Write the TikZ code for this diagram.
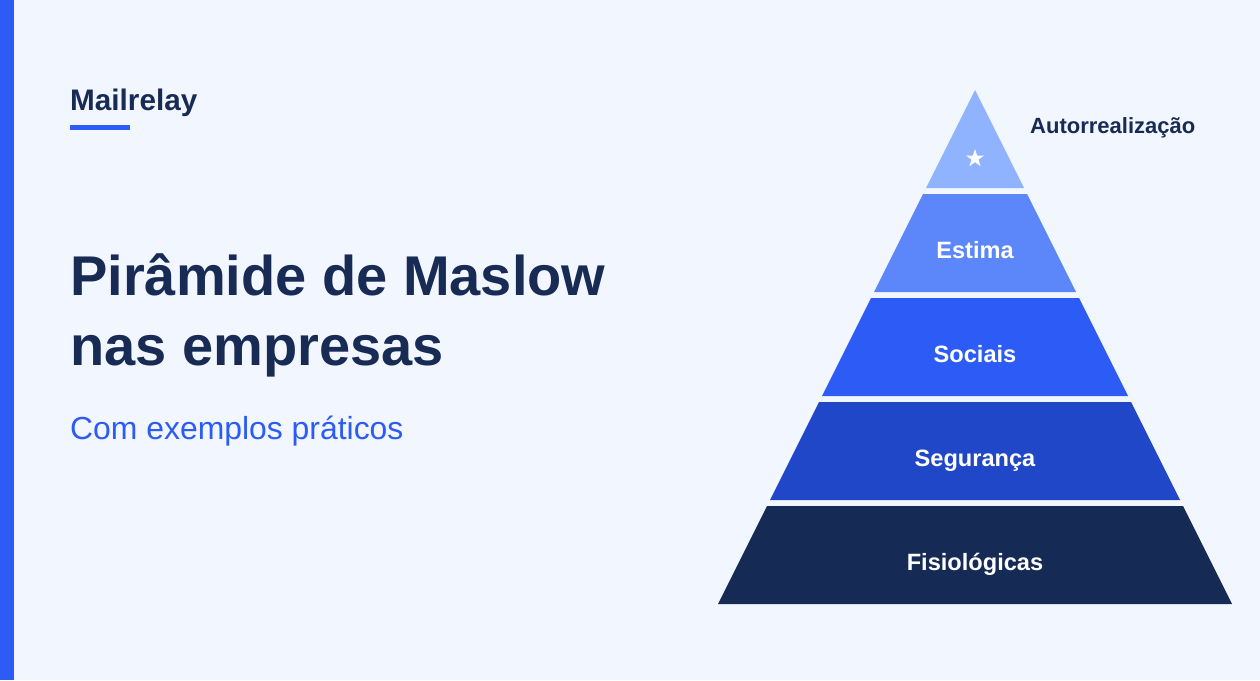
\documentclass[tikz,border=0pt]{standalone}
\usepackage{fontspec}
\setmainfont{Liberation Sans}
\usetikzlibrary{shapes.geometric}
\definecolor{bg}{HTML}{F2F6FE}
\definecolor{navy}{HTML}{172B55}
\definecolor{brand}{HTML}{2C5BF5}
\definecolor{tierA}{HTML}{8FB3FF}
\definecolor{tierB}{HTML}{5B87FA}
\definecolor{tierC}{HTML}{2C5BF5}
\definecolor{tierD}{HTML}{1F47C7}
\definecolor{tierE}{HTML}{152A55}
\begin{document}
\begin{tikzpicture}[x=1pt,y=-1pt,
  tierlabel/.style={anchor=base,text=white,font=\fontsize{23.6}{23.6}\selectfont\bfseries,inner sep=0pt},
  lefttext/.style={anchor=base west,inner sep=0pt}]
\useasboundingbox (0,0) rectangle (1260,680);
\fill[bg] (0,0) rectangle (1260,680);
\fill[brand] (0,0) rectangle (14,680);
% logo
\node[lefttext,text=navy,font=\fontsize{29.7}{29.7}\selectfont\bfseries] (logo) at (70,110) {Mailrelay};
\fill[brand] (70,124.5) rectangle (130,130);
% title
\node[lefttext,text=navy,font=\fontsize{56}{56}\selectfont\bfseries] (t1) at (70,295) {Pirâmide de Maslow};
\node[lefttext,text=navy,font=\fontsize{56}{56}\selectfont\bfseries] (t2) at (70,365) {nas empresas};
\node[lefttext,text=brand,font=\fontsize{31.9}{31.9}\selectfont] (sub) at (70,439) {Com exemplos práticos};
% pyramid: apex (975,90), half-width = (y-90)/2
\fill[tierA] (975,90) -- (1024,188) -- (926,188) -- cycle;
\fill[tierB] (923,194) -- (1027,194) -- (1076,292) -- (874,292) -- cycle;
\fill[tierC] (871,298) -- (1079,298) -- (1128,396) -- (822,396) -- cycle;
\fill[tierD] (819,402) -- (1131,402) -- (1180,500) -- (770,500) -- cycle;
\fill[tierE] (767,506) -- (1183,506) -- (1232,604) -- (718,604) -- cycle;
\node[star,star points=5,star point ratio=2.6,fill=white,draw=none,minimum size=19pt,inner sep=0pt] (starmark) at (975,158.5) {};
\node[anchor=base west,inner sep=0pt,text=navy,font=\fontsize{22}{22}\selectfont\bfseries] (lab1) at (1030,133.5) {Autorrealização};
\node[tierlabel] (lab2) at (975,258) {Estima};
\node[tierlabel] (lab3) at (975,362) {Sociais};
\node[tierlabel] (lab4) at (975,466) {Segurança};
\node[tierlabel] (lab5) at (975,570) {Fisiológicas};
\end{tikzpicture}
\end{document}
